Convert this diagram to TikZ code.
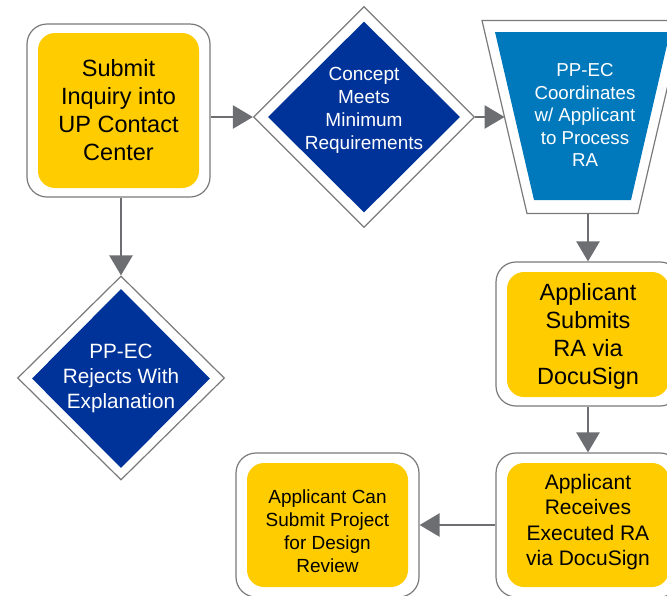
\documentclass[tikz,border=0pt]{standalone}
\usepackage{fontspec}
\setmainfont{Liberation Sans}
\usetikzlibrary{shapes.geometric,arrows.meta}
\definecolor{uyellow}{HTML}{FFCC00}
\definecolor{unavy}{HTML}{003399}
\definecolor{usteel}{HTML}{0079BC}
\definecolor{lineg}{HTML}{7A7A7A}
\definecolor{arrg}{HTML}{6D6E71}
\tikzset{
  outerbox/.style={draw=lineg, line width=1.2pt, fill=white, rounded corners=20pt, inner sep=0pt},
  innerbox/.style={fill=uyellow, rounded corners=17pt, inner sep=0pt},
  outerdia/.style={diamond, draw=lineg, line width=1.2pt, fill=white, inner sep=0pt},
  innerdia/.style={diamond, fill=unavy, inner sep=0pt},
  outertrap/.style={draw=lineg, line width=1.2pt, fill=white},
  innertrap/.style={fill=usteel},
  txt/.style={align=center, inner sep=0pt, text=black},
  wtxt/.style={align=center, inner sep=0pt, text=white},
  arr/.style={draw=arrg, line width=2.5pt, -{Triangle[length=20pt,width=23pt]}}
}
\begin{document}
\begin{tikzpicture}[x=1pt,y=-1pt]
\useasboundingbox (0,0) rectangle (667,595);

% Box 1
\node[outerbox, minimum width=183pt, minimum height=173pt] (b1) at (118.5,110.5) {};
\node[innerbox, minimum width=161pt, minimum height=155pt] (b1i) at (b1) {};
\node[txt, font=\fontsize{23.5}{28}\selectfont] (b1t) at (118.5,110.5) {Submit\\Inquiry into\\UP Contact\\Center};

% Diamond 1
\node[outerdia, minimum width=221pt, minimum height=221pt] (d1) at (364,117) {};
\node[innerdia, minimum width=192pt, minimum height=191pt] (d1i) at (d1) {};
\node[wtxt, font=\fontsize{19}{23}\selectfont] (d1t) at (364,110.5) {Concept\\Meets\\Minimum\\Requirements};

% Trapezoid (drawn directly)
\path[outertrap] (482,20.5) -- (683,20.5) -- (638,213.5) -- (527,213.5) -- cycle;
\path[innertrap] (495,32) -- (670,32) -- (631,200) -- (534,200) -- cycle;
\coordinate (trin) at (504.6,117);
\coordinate (trbot) at (588,213.5);
\node[wtxt, font=\fontsize{18.7}{22.5}\selectfont] (trt) at (585,115) {PP-EC\\Coordinates\\w/ Applicant\\to Process\\RA};

% Box 2
\node[outerbox, minimum width=184pt, minimum height=144pt] (b2) at (588,334) {};
\node[innerbox, minimum width=162pt, minimum height=125pt] (b2i) at (588,334.5) {};
\node[txt, font=\fontsize{23.5}{28}\selectfont] (b2t) at (588,336) {Applicant\\Submits\\RA via\\DocuSign};

% Box 3
\node[outerbox, minimum width=184pt, minimum height=144pt] (b3) at (588,525) {};
\node[innerbox, minimum width=162pt, minimum height=124pt] (b3i) at (588,525) {};
\node[txt, font=\fontsize{21}{25.5}\selectfont] (b3t) at (588,522) {Applicant\\Receives\\Executed RA\\via DocuSign};

% Box 4
\node[outerbox, minimum width=183pt, minimum height=144pt] (b4) at (327.5,525) {};
\node[innerbox, minimum width=161pt, minimum height=124pt] (b4i) at (327.5,525) {};
\node[txt, font=\fontsize{19}{23}\selectfont] (b4t) at (327.5,531) {Applicant Can\\Submit Project\\for Design\\Review};

% Diamond 2
\node[outerdia, minimum width=207pt, minimum height=204pt] (d2) at (121,378) {};
\node[innerdia, minimum width=178pt, minimum height=179pt] (d2i) at (121,378.5) {};
\node[wtxt, font=\fontsize{20.7}{25}\selectfont] (d2t) at (121,378) {PP-EC\\Rejects With\\Explanation};

% Connectors
\draw[arr] (b1.east |- d1.west) -- (d1.west);
\draw[arr] (d1.east) -- (trin);
\draw[arr] (trbot) -- (b2.north);
\draw[arr] (b2.south) -- (b3.north);
\draw[arr] (b3.west) -- (b4.east);
\draw[arr] (b1.south -| d2.north) -- (d2.north);
\end{tikzpicture}
\end{document}
